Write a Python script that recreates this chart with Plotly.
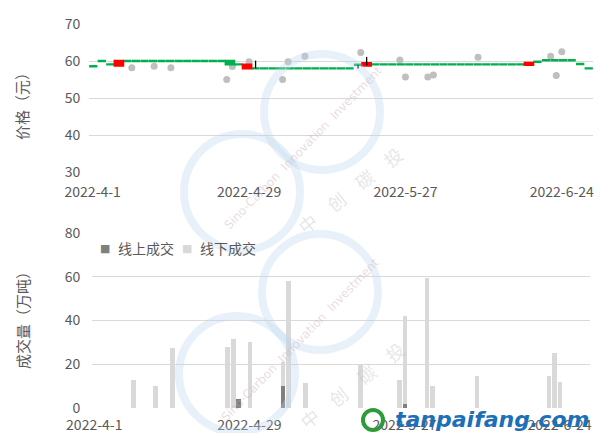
import plotly.graph_objects as go

# ---------------- data ----------------
trading_days = [
    "2022-04-01", "2022-04-06", "2022-04-07", "2022-04-08", "2022-04-11", "2022-04-12",
    "2022-04-13", "2022-04-14", "2022-04-15", "2022-04-18", "2022-04-19", "2022-04-20",
    "2022-04-21", "2022-04-22", "2022-04-25", "2022-04-26", "2022-04-27", "2022-04-28",
    "2022-04-29", "2022-05-05", "2022-05-06", "2022-05-09", "2022-05-10", "2022-05-11",
    "2022-05-12", "2022-05-13", "2022-05-16", "2022-05-17", "2022-05-18", "2022-05-19",
    "2022-05-20", "2022-05-23", "2022-05-24", "2022-05-25", "2022-05-26", "2022-05-27",
    "2022-05-30", "2022-05-31", "2022-06-01", "2022-06-02", "2022-06-06", "2022-06-07",
    "2022-06-08", "2022-06-09", "2022-06-10", "2022-06-13", "2022-06-14", "2022-06-15",
    "2022-06-16", "2022-06-17", "2022-06-20", "2022-06-21", "2022-06-22", "2022-06-23",
    "2022-06-24", "2022-06-27", "2022-06-28", "2022-06-29", "2022-06-30",
]
price_open = [
    58.6, 60.0, 59.1, 58.8, 60.0, 60.0, 60.0, 60.0, 60.0, 60.0, 60.0, 60.0,
    60.0, 60.0, 60.0, 60.0, 60.0, 59.1, 58.0, 58.0, 58.0, 58.0, 58.0, 58.0,
    58.0, 58.0, 58.0, 58.0, 58.0, 58.0, 58.0, 59.0, 58.8, 59.1, 59.1, 59.1,
    59.1, 59.1, 59.1, 59.1, 59.1, 59.1, 59.1, 59.1, 59.1, 59.1, 59.1, 59.1,
    59.1, 59.1, 59.1, 59.0, 59.8, 60.2, 60.2, 60.2, 60.2, 59.2, 58.0,
]
price_close = [
    58.6, 60.0, 59.1, 60.0, 60.0, 60.0, 60.0, 60.0, 60.0, 60.0, 60.0, 60.0,
    60.0, 60.0, 60.0, 60.0, 59.1, 59.1, 59.0, 58.0, 58.0, 58.0, 58.0, 58.0,
    58.0, 58.0, 58.0, 58.0, 58.0, 58.0, 58.0, 59.0, 59.4, 59.1, 59.1, 59.1,
    59.1, 59.1, 59.1, 59.1, 59.1, 59.1, 59.1, 59.1, 59.1, 59.1, 59.1, 59.1,
    59.1, 59.1, 59.1, 59.5, 59.8, 60.2, 60.2, 60.2, 60.2, 59.2, 58.0,
]
price_high = [
    58.6, 60.0, 59.1, 60.0, 60.0, 60.0, 60.0, 60.0, 60.0, 60.0, 60.0, 60.0,
    60.0, 60.0, 60.0, 60.0, 60.0, 59.1, 59.0, 60.1, 58.0, 58.0, 58.0, 58.0,
    58.0, 58.0, 58.0, 58.0, 58.0, 58.0, 58.0, 59.0, 61.1, 59.1, 59.1, 59.1,
    59.1, 59.1, 59.1, 59.1, 59.1, 59.1, 59.1, 59.1, 59.1, 59.1, 59.1, 59.1,
    59.1, 59.1, 59.1, 59.5, 59.8, 60.2, 60.2, 60.2, 60.2, 59.2, 58.0,
]
price_low = [
    58.6, 60.0, 59.1, 58.8, 60.0, 60.0, 60.0, 60.0, 60.0, 60.0, 60.0, 60.0,
    60.0, 60.0, 60.0, 60.0, 59.1, 59.1, 58.0, 58.0, 58.0, 58.0, 58.0, 58.0,
    58.0, 58.0, 58.0, 58.0, 58.0, 58.0, 58.0, 58.0, 58.8, 59.1, 59.1, 59.1,
    59.1, 59.1, 59.1, 59.1, 59.1, 59.1, 59.1, 59.1, 59.1, 59.1, 59.1, 59.1,
    59.1, 59.1, 59.1, 59.0, 59.8, 60.2, 60.2, 60.2, 60.2, 59.2, 58.0,
]

offline_dates = [
    "2022-04-08", "2022-04-12", "2022-04-15", "2022-04-25", "2022-04-26", "2022-04-29",
    "2022-05-05", "2022-05-06", "2022-05-09", "2022-05-19", "2022-05-26", "2022-05-27",
    "2022-05-31", "2022-06-01", "2022-06-09", "2022-06-22", "2022-06-23", "2022-06-24",
]
offline_price = [
    58.2, 58.6, 58.2, 55.0, 58.5, 59.8,
    55.0, 59.8, 61.3, 62.3, 60.3, 55.7,
    55.7, 56.2, 61.0, 61.3, 56.1, 62.5,
]
offline_volume = [
    13.0, 10.0, 27.5, 28.0, 31.5, 30.0,
    21.0, 58.0, 11.3, 20.0, 13.0, 42.0,
    59.5, 10.0, 14.5, 14.5, 25.0, 12.0,
]
online_dates = ["2022-04-27", "2022-05-05", "2022-05-27"]
online_volume = [4.0, 10.0, 1.8]

tick_dates = ["2022-04-01", "2022-04-29", "2022-05-27", "2022-06-24"]
tick_labels = ["2022-4-1", "2022-4-29", "2022-5-27", "2022-6-24"]

# ---------------- styling ----------------
FONT = "Noto Sans CJK SC"
TXT = "#595959"
GRID = "#D9D9D9"
GREEN = "#00B050"
RED = "#FF0000"
DAY_MS = 86400000

up_idx = [i for i in range(len(trading_days)) if price_close[i] > price_open[i]]
dn_idx = [i for i in range(len(trading_days)) if price_close[i] <= price_open[i]]


def sub(lst, idx):
    return [lst[i] for i in idx]


fig = go.Figure()

# offline price dots (date axis)
fig.add_trace(go.Scatter(
    x=offline_dates, y=offline_price, mode="markers",
    marker=dict(size=7, color="#BFBFBF"), xaxis="x", yaxis="y",
    showlegend=False, hoverinfo="skip"))

# candlesticks on trading-day category axis
for idx, col in ((dn_idx, GREEN), (up_idx, RED)):
    o = sub(price_open, idx)
    c = sub(price_close, idx)
    fig.add_trace(go.Candlestick(
        x=sub(trading_days, idx), open=o, close=c,
        high=[max(a, b) for a, b in zip(o, c)], low=[min(a, b) for a, b in zip(o, c)],
        increasing=dict(line=dict(color=col, width=2.4), fillcolor=col),
        decreasing=dict(line=dict(color=col, width=2.4), fillcolor=col),
        whiskerwidth=0, xaxis="x3", yaxis="y", showlegend=False, hoverinfo="skip"))

# wicks
wx, wy = [], []
for d, lo, hi, o, c in zip(trading_days, price_low, price_high, price_open, price_close):
    if hi > max(o, c) or lo < min(o, c):
        wx += [d, d, None]
        wy += [lo, hi, None]
fig.add_trace(go.Scatter(x=wx, y=wy, mode="lines", line=dict(color="black", width=1.3),
                         xaxis="x3", yaxis="y", showlegend=False, hoverinfo="skip"))

# volume bars
fig.add_trace(go.Bar(x=offline_dates, y=offline_volume, name="线下成交",
                     marker=dict(color="#D9D9D9", line=dict(width=0)),
                     width=[0.85 * DAY_MS] * len(offline_dates), xaxis="x2", yaxis="y2",
                     showlegend=False, hoverinfo="skip"))
fig.add_trace(go.Bar(x=online_dates, y=online_volume, name="线上成交",
                     marker=dict(color="#7F7F7F", line=dict(width=0)),
                     width=[0.85 * DAY_MS] * len(online_dates), xaxis="x2", yaxis="y2",
                     showlegend=False, hoverinfo="skip"))

# page body has an 8px margin: the figure is drawn inside it
OFF = 8
W, H = 615 - 2 * OFF, 441 - 2 * OFF
L, R, T, B = 89 - OFF, 615 - 593 - OFF, 24 - OFF, 441 - 408 - OFF
pw, ph = W - L - R, H - T - B


def px_y(y):
    return 1 - (y - OFF - T) / ph


def px_x(x):
    return (x - OFF - L) / pw


tickfont = dict(family=FONT, size=14, color=TXT)

fig.update_layout(
    width=W, height=H, margin=dict(l=L, r=R, t=T, b=B, autoexpand=False),
    paper_bgcolor="white", plot_bgcolor="white",
    font=dict(family=FONT, color=TXT),
    barmode="overlay", bargap=0, boxgap=0.03, boxgroupgap=0, boxmode="overlay",
    hovermode=False, showlegend=False,
    xaxis=dict(type="date", domain=[0, 1], anchor="y",
               range=["2022-03-31 08:00", "2022-06-29 14:00"],
               tickmode="array", tickvals=tick_dates, ticktext=tick_labels,
               showgrid=False, zeroline=False, showline=False,
               ticks="outside", ticklen=7, tickcolor="rgba(0,0,0,0)", tickfont=tickfont),
    xaxis3=dict(type="category", overlaying="x", anchor="y", visible=False,
                categoryorder="array", categoryarray=trading_days,
                range=[-0.5, len(trading_days) - 0.5],
                rangeslider=dict(visible=False)),
    yaxis=dict(domain=[px_y(172), 1], range=[30, 70], dtick=10, tick0=0,
               showgrid=True, gridcolor=GRID, gridwidth=1, zeroline=False, showline=False,
               ticks="outside", ticklen=5, tickcolor="rgba(0,0,0,0)", tickfont=tickfont),
    xaxis2=dict(type="date", domain=[px_x(91.5), px_x(590)], anchor="y2",
                range=["2022-03-31 12:00", "2022-06-29 12:00"],
                tickmode="array", tickvals=tick_dates, ticktext=tick_labels,
                showgrid=False, zeroline=False, showline=False,
                ticks="outside", ticklen=4, tickcolor="rgba(0,0,0,0)", tickfont=tickfont),
    yaxis2=dict(domain=[0, px_y(233)], range=[0, 80], dtick=20, tick0=0,
                showgrid=True, gridcolor=GRID, gridwidth=1, zeroline=False, showline=False,
                ticks="outside", ticklen=5, tickcolor="rgba(0,0,0,0)", tickfont=tickfont),
)

ann = []
# axis titles
ann.append(dict(text="价格（元）", x=px_x(22), y=px_y(103), xref="paper", yref="paper",
                xanchor="center", yanchor="middle",
                textangle=-90, showarrow=False, font=dict(family=FONT, size=15, color=TXT)))
ann.append(dict(text="成交量（万吨）", x=px_x(22), y=px_y(317), xref="paper", yref="paper",
                xanchor="center", yanchor="middle",
                textangle=-90, showarrow=False, font=dict(family=FONT, size=15, color=TXT)))
# legend
for sx, tx, col, label in ((105, 116, "#7F7F7F", "线上成交"), (186.5, 198, "#D9D9D9", "线下成交")):
    ann.append(dict(text="■", x=px_x(sx), y=px_y(248), xref="paper", yref="paper",
                    xanchor="center", yanchor="middle", showarrow=False,
                    font=dict(family="DejaVu Sans", size=11, color=col)))
    ann.append(dict(text=label, x=px_x(tx), y=px_y(248), xref="paper", yref="paper",
                    xanchor="left", yanchor="middle", showarrow=False,
                    font=dict(family=FONT, size=14, color=TXT)))

# watermark
WM = "rgba(189,215,238,0.35)"
shapes = []
for cx, cy, r in ((242, 192, 58), (322, 112, 58), (237, 374, 58), (320, 292, 58)):
    shapes.append(dict(type="circle", xref="paper", yref="paper",
                       x0=px_x(cx - r), x1=px_x(cx + r), y0=px_y(cy + r), y1=px_y(cy - r),
                       line=dict(color=WM, width=8), layer="above"))
for x0, y0 in ((303, 148), (300, 340)):
    ann.append(dict(text="Sino-Carbon  Innovation  Investment", x=px_x(x0), y=px_y(y0),
                    xref="paper", yref="paper", xanchor="center", yanchor="middle",
                    textangle=-46, showarrow=False,
                    font=dict(family="DejaVu Sans", size=12, color="rgba(205,175,185,0.45)")))
for x0, y0 in ((350, 190), (352, 385)):
    ann.append(dict(text="中　创　碳　投", x=px_x(x0), y=px_y(y0),
                    xref="paper", yref="paper", xanchor="center", yanchor="middle",
                    textangle=-38, showarrow=False,
                    font=dict(family=FONT, size=18, color="rgba(200,200,200,0.45)")))
# site logo
shapes.append(dict(type="circle", xref="paper", yref="paper",
                   x0=px_x(363), x1=px_x(383), y0=px_y(430), y1=px_y(410),
                   line=dict(color="#2E9A3A", width=4), layer="above"))
ann.append(dict(text="<b><i>tanpaifang.com</i></b>", x=px_x(393), y=px_y(419),
                xref="paper", yref="paper", xanchor="left", yanchor="middle", showarrow=False,
                font=dict(family="DejaVu Sans", size=22, color="#1D6FB8")))

fig.update_layout(annotations=ann, shapes=shapes)

fig.write_html("out.html")
